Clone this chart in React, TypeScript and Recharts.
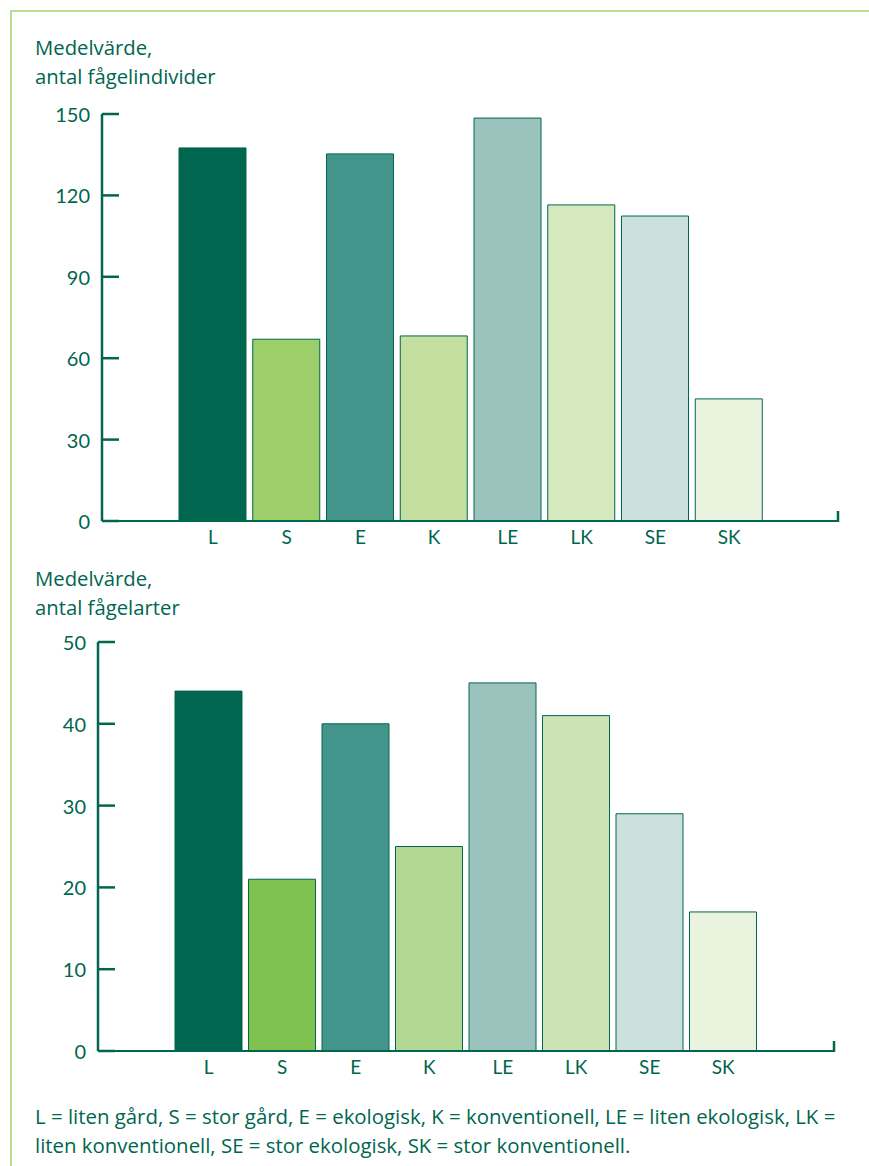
import { BarChart, Bar, XAxis, YAxis, Cell, ReferenceLine } from 'recharts';

const categories = ['L', 'S', 'E', 'K', 'LE', 'LK', 'SE', 'SK'];
const individerValues = [137.5, 67, 135.3, 68.2, 148.5, 116.5, 112.4, 45];
const arterValues = [44, 21, 40, 25, 45, 41, 29, 17];
const individerTicks = [0, 30, 60, 90, 120, 150];
const arterTicks = [0, 10, 20, 30, 40, 50];
const individerColors = ['#00664f', '#9ccf69', '#43948a', '#c3de9f', '#9ac3bd', '#d6e8be', '#cce1dc', '#e9f3de'];
const arterColors = ['#00664f', '#80c250', '#43948a', '#b3d893', '#9ac3bd', '#cce3b4', '#cce1dc', '#e9f3de'];

const GREEN = '#00664f';
const FONT = 'Lato, sans-serif';
const TEXT_FONT = '"Open Sans", sans-serif';

const individerData = categories.map((c, i) => ({ name: c, value: individerValues[i] }));
const arterData = categories.map((c, i) => ({ name: c, value: arterValues[i] }));

function YTick(props: any) {
  const { x, y, payload } = props;
  return (
    <g>
      <line x1={x} x2={x + 17} y1={y} y2={y} stroke={GREEN} strokeWidth={2.5} />
      <text x={x - 12} y={y} textAnchor="end" dominantBaseline="central" fill={GREEN} fontSize={20} fontFamily={FONT}>
        {payload.value}
      </text>
    </g>
  );
}

// small upturned tick at the right end of the baseline
function endTick(p: any) {
  return <line x1={p.x2} x2={p.x2} y1={p.y2 + 1} y2={p.y2 - 10} stroke={GREEN} strokeWidth={2.5} />;
}

function Panel({ data, colors, ticks, max, padding, height }: any) {
  return (
    <BarChart width={869} height={height} data={data} margin={{ top: 14, right: 31, bottom: 0, left: 0 }}>
      <XAxis
        dataKey="name"
        height={39}
        padding={padding}
        axisLine={{ stroke: GREEN, strokeWidth: 2 }}
        tickLine={false}
        tickSize={0}
        tickMargin={10}
        tick={{ fill: GREEN, fontSize: 19, fontFamily: FONT }}
        interval={0}
      />
      <YAxis
        domain={[0, max]}
        ticks={ticks}
        width={102}
        axisLine={{ stroke: GREEN, strokeWidth: 2.5 }}
        tickLine={false}
        tickSize={0}
        tickMargin={0}
        tick={<YTick />}
        interval={0}
      />
      <Bar dataKey="value" barSize={67} stroke={GREEN} strokeWidth={1} isAnimationActive={false}>
        {data.map((d: any, i: number) => (
          <Cell key={d.name} fill={colors[i]} />
        ))}
      </Bar>
      <ReferenceLine y={0} ifOverflow="visible" shape={endTick} />
    </BarChart>
  );
}

const titleStyle: React.CSSProperties = {
  position: 'absolute',
  left: 35,
  color: GREEN,
  fontFamily: TEXT_FONT,
  fontSize: 20.3,
  lineHeight: '29px',
  whiteSpace: 'nowrap',
};

export default function App() {
  return (
    <div style={{ position: 'relative', width: 869, height: 1166, background: '#fff', overflow: 'hidden' }}>
      <style>{'body{margin:0}'}</style>
      <div
        style={{
          position: 'absolute',
          left: 10,
          top: 10,
          right: 0,
          bottom: 0,
          borderTop: '2px solid #b8de8e',
          borderLeft: '2px solid #b8de8e',
        }}
      />
      <div style={{ ...titleStyle, top: 33 }}>
        Medelvärde,
        <br />
        antal fågelindivider
      </div>
      <div style={{ position: 'absolute', left: 0, top: 100 }}>
        <Panel data={individerData} colors={individerColors} ticks={individerTicks} max={150} height={460} padding={{ left: 74, right: 72 }} />
      </div>
      <div style={{ ...titleStyle, top: 564 }}>
        Medelvärde,
        <br />
        antal fågelarter
      </div>
      <div style={{ position: 'absolute', left: -4, top: 628 }}>
        <Panel data={arterData} colors={arterColors} ticks={arterTicks} max={50} height={462} padding={{ left: 74, right: 74 }} />
      </div>
      <div style={{ ...titleStyle, top: 1102, fontSize: 20.4 }}>
        L = liten gård, S = stor gård, E = ekologisk, K = konventionell, LE = liten ekologisk, LK =
        <br />
        liten konventionell, SE = stor ekologisk, SK = stor konventionell.
      </div>
    </div>
  );
}
